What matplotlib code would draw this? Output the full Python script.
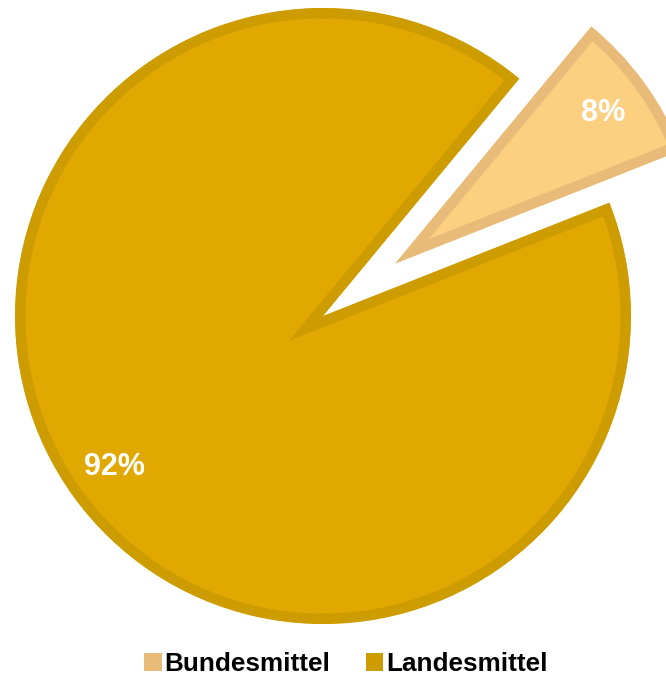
import matplotlib
matplotlib.use('Agg')
import matplotlib.pyplot as plt
import matplotlib.patches as mpatches

labels = ['Bundesmittel', 'Landesmittel']
values = [8, 92]
face_colors = ['#FDCF80', '#E0A800']
edge_colors = ['#E8BC78', '#CC9C00']

plt.rcParams['font.family'] = ['Liberation Sans', 'DejaVu Sans']

W, H = 666, 675
fig = plt.figure(figsize=(W / 100, H / 100), dpi=100)
ax = fig.add_axes([0, 0, 1, 1])

R = 308
wedges, texts, autotexts = ax.pie(
    values, explode=[89, 0], center=(323, 359), radius=R,
    startangle=50.4, counterclock=False, colors=face_colors,
    autopct='%.0f%%', pctdistance=0.835,
    wedgeprops=dict(linewidth=15, joinstyle='miter'),
    textprops=dict(color='white', fontsize=22, fontweight='bold'))

for w, ec in zip(wedges, edge_colors):
    w.set_edgecolor(ec)
    w.set_clip_on(True)
    w.set_clip_path(w.get_path(), ax.transData)

ax.set_xlim(0, W)
ax.set_ylim(0, H)
ax.set_aspect('equal')
ax.axis('off')

handles = [mpatches.Patch(facecolor=c, edgecolor='none') for c in edge_colors]
fig.legend(handles, labels, loc='center', bbox_to_anchor=(346 / W, 1 - 664 / H),
           ncol=2, frameon=False,
           prop=dict(family='Liberation Sans', weight='bold', size=18.8),
           handlelength=0.66, handleheight=0.66, handletextpad=0.12,
           columnspacing=1.35, borderpad=0)

fig.savefig('out.png', dpi=100)
